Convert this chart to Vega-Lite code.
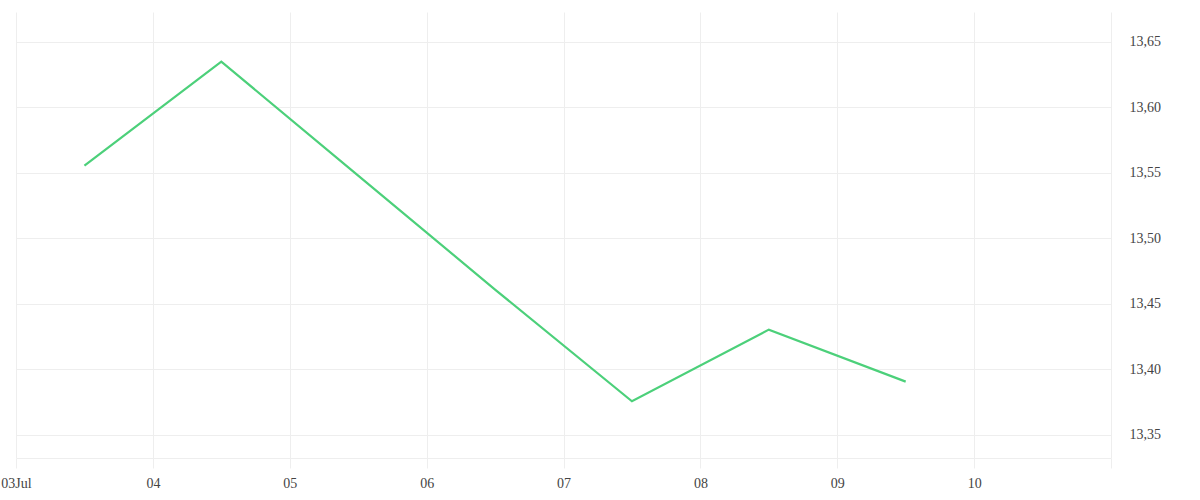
{
  "$schema": "https://vega.github.io/schema/vega-lite/v6.json",
  "autosize": {"type": "pad"},
  "width": 1095,
  "height": 446,
  "padding": {"left": 0, "top": 12, "right": 0, "bottom": 0},
  "background": "white",
  "data": {
    "values": [
      {"date": "2023-07-03T12:00:00", "value": 13.5556},
      {"date": "2023-07-04T12:00:00", "value": 13.635},
      {"date": "2023-07-05T12:00:00", "value": 13.548},
      {"date": "2023-07-06T12:00:00", "value": 13.461},
      {"date": "2023-07-07T12:00:00", "value": 13.3757},
      {"date": "2023-07-08T12:00:00", "value": 13.4304},
      {"date": "2023-07-09T12:00:00", "value": 13.3907}
    ]
  },
  "mark": {"type": "line", "color": "#4cd07a", "strokeWidth": 2.2},
  "encoding": {
    "x": {
      "field": "date",
      "type": "temporal",
      "scale": {
        "domain": [
          {"year": 2023, "month": 7, "date": 3},
          {"year": 2023, "month": 7, "date": 11}
        ],
        "nice": false
      },
      "axis": {
        "title": null,
        "tickCount": {"interval": "day", "step": 1},
        "labelExpr": "datum.index == 0 ? timeFormat(datum.value, '%d%b') : (date(datum.value) == 11 ? '' : timeFormat(datum.value, '%d'))",
        "grid": true,
        "gridColor": "#eeeeee",
        "domainColor": "#eeeeee",
        "tickColor": "#eeeeee",
        "tickSize": 10,
        "labelPadding": 8,
        "labelFont": "Liberation Serif",
        "labelFontSize": 14,
        "labelColor": "#444444",
        "labelOverlap": false,
        "labelFlush": false
      }
    },
    "y": {
      "field": "value",
      "type": "quantitative",
      "scale": {"domain": [13.3324, 13.6729], "nice": false, "zero": false},
      "axis": {
        "title": null,
        "orient": "right",
        "values": [13.35, 13.4, 13.45, 13.5, 13.55, 13.6, 13.65],
        "labelExpr": "replace(format(datum.value, '.2f'), '.', ',')",
        "grid": true,
        "gridColor": "#eeeeee",
        "domain": false,
        "ticks": false,
        "labelPadding": 18,
        "labelFont": "Liberation Serif",
        "labelFontSize": 14,
        "labelColor": "#444444"
      }
    }
  },
  "config": {"view": {"stroke": null}}
}
